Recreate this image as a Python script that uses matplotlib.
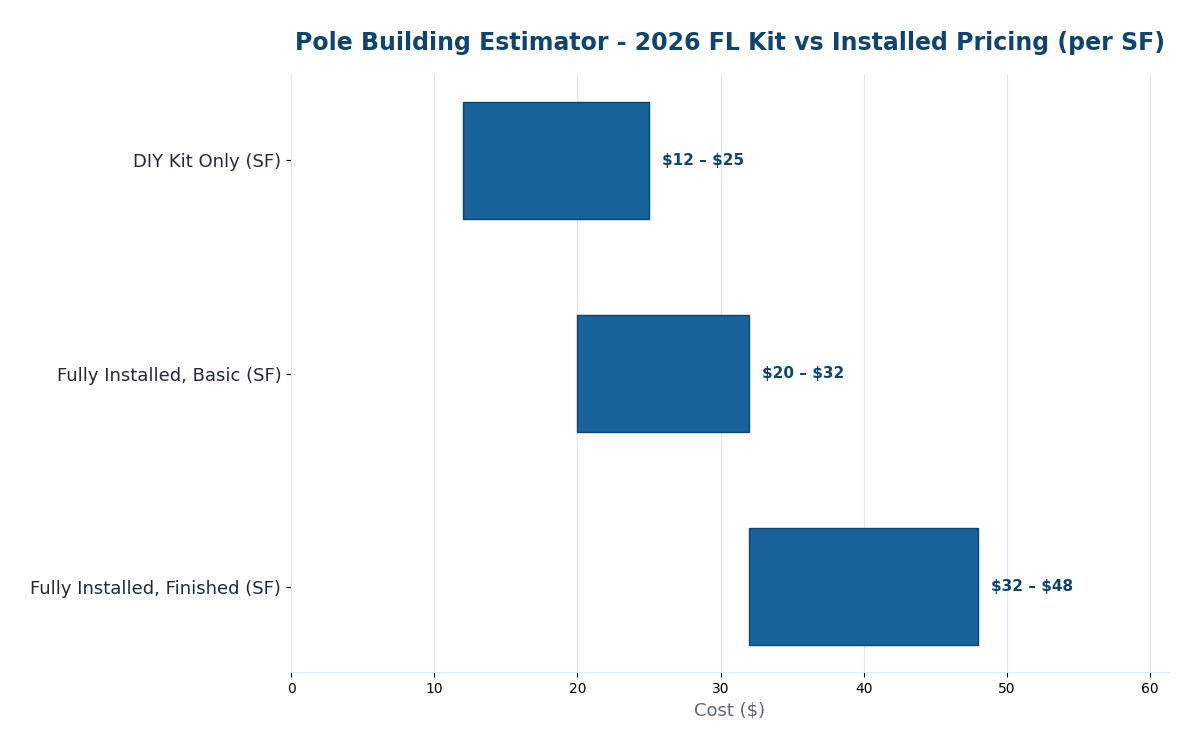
import matplotlib
matplotlib.use("Agg")
import matplotlib.pyplot as plt

categories = ["DIY Kit Only (SF)", "Fully Installed, Basic (SF)", "Fully Installed, Finished (SF)"]
low = [12, 20, 32]
high = [25, 32, 48]

fig, ax = plt.subplots(figsize=(12, 7.5), dpi=100)
fig.subplots_adjust(left=0.2425, right=0.974, top=0.9, bottom=0.104)

widths = [h - l for l, h in zip(low, high)]
ypos = list(range(len(categories)))
ax.barh(ypos, widths, left=low, height=0.55, color="#18639c", edgecolor="#0d4470", linewidth=1)

for y, l, h in zip(ypos, low, high):
    ax.text(h + 0.9, y, f"\\${l} – \\${h}", va="center", ha="left",
            fontsize=11, fontweight="bold", color="#0d4470")

ax.set_yticks(ypos)
ax.set_yticklabels(categories, fontsize=13, color="#222a35")
ax.set_ylim(2.4, -0.4)
ax.set_xlim(0, 61.3)
ax.set_xticks(range(0, 61, 10))
ax.tick_params(axis="x", labelsize=10)
ax.set_xlabel("Cost (\\$)", fontsize=13, color="#56677a")

ax.grid(axis="x", color="#dde8f2", linewidth=0.8)
ax.set_axisbelow(True)
for s in ["top", "right"]:
    ax.spines[s].set_visible(False)
for s in ["left", "bottom"]:
    ax.spines[s].set_color("#dde8f2")

ax.set_title("Pole Building Estimator - 2026 FL Kit vs Installed Pricing (per SF)",
             fontsize=17, fontweight="bold", color="#0d4470", pad=18)

plt.savefig("out.png", dpi=100)
